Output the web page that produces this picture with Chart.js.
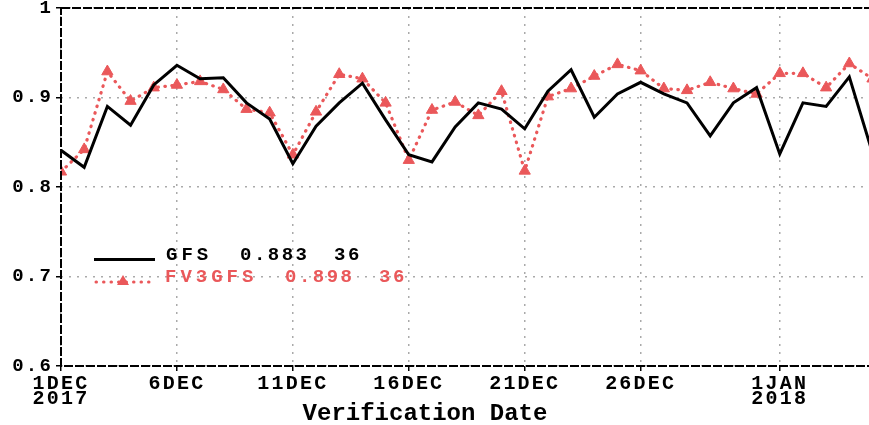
<!DOCTYPE html>
<html>
<head>
<meta charset="utf-8">
<script src="https://cdn.jsdelivr.net/npm/chart.js@4/dist/chart.umd.min.js"></script>
<style>
  html, body { margin: 0; padding: 0; background: #fff; overflow: hidden; }
</style>
</head>
<body>
<canvas id="acChart" width="880" height="425"></canvas>
<script>
// Datos (36 dias, 1DEC2017 - 5JAN2018)
const days = Array.from({ length: 36 }, (_, i) => i);
const gfsValues = [0.841, 0.822, 0.890, 0.869, 0.914, 0.936, 0.921, 0.922, 0.894, 0.876,
                   0.826, 0.868, 0.894, 0.916, 0.875, 0.836, 0.828, 0.867, 0.894, 0.887,
                   0.865, 0.907, 0.931, 0.878, 0.904, 0.917, 0.904, 0.894, 0.857, 0.894,
                   0.911, 0.837, 0.894, 0.890, 0.923, 0.838];
const fv3Values = [0.817, 0.842, 0.929, 0.896, 0.911, 0.914, 0.918, 0.909, 0.887, 0.883,
                   0.836, 0.884, 0.926, 0.921, 0.894, 0.830, 0.886, 0.895, 0.880, 0.907,
                   0.818, 0.901, 0.910, 0.924, 0.937, 0.930, 0.910, 0.908, 0.917, 0.910,
                   0.904, 0.927, 0.927, 0.911, 0.938, 0.921];
const seriesNames = ['GFS', 'FV3GFS'];
const seriesMeans = ['0.883', '0.898'];
const seriesCounts = ['36', '36'];
const xTickDays = [0, 5, 10, 15, 20, 25, 31];
const xTickLabels = [['1DEC', '2017'], '6DEC', '11DEC', '16DEC', '21DEC', '26DEC', ['1JAN', '2018']];
const yTicks = [0.6, 0.7, 0.8, 0.9, 1.0];

const RED = 'rgb(234, 88, 90)';
const MONO = '"Liberation Mono", "DejaVu Sans Mono", monospace';

// Marco discontinuo, titulo del eje y leyenda
const framePlugin = {
    id: 'frame',
    beforeDraw(chart) {
        chart.ctx.letterSpacing = '2.2px';
    },
    afterDraw(chart) {
        const { ctx, chartArea: a } = chart;
        ctx.save();
        ctx.letterSpacing = '0px';
        ctx.strokeStyle = '#000';
        ctx.lineWidth = 2;
        ctx.setLineDash([9, 2]);
        ctx.strokeRect(a.left, a.top, a.right - a.left, a.bottom - a.top);
        ctx.setLineDash([]);

        // titulo
        ctx.font = 'bold 24px ' + MONO;
        ctx.fillStyle = '#000';
        ctx.textAlign = 'center';
        ctx.textBaseline = 'alphabetic';
        ctx.fillText('Verification Date', 425, 420);

        // leyenda
        ctx.font = 'bold 19px ' + MONO;
        ctx.textAlign = 'left';
        ctx.textBaseline = 'middle';
        ctx.lineWidth = 3;
        ctx.strokeStyle = '#000';
        ctx.beginPath(); ctx.moveTo(94, 259.5); ctx.lineTo(155, 259.5); ctx.stroke();
        ctx.letterSpacing = '4px';
        ctx.fillText(seriesNames[0], 166, 255);
        ctx.letterSpacing = '2.5px';
        ctx.fillText(seriesMeans[0], 240, 255);
        ctx.fillText(seriesCounts[0], 334, 255);

        ctx.strokeStyle = RED;
        ctx.lineCap = 'round';
        ctx.setLineDash([0.5, 7]);
        ctx.beginPath(); ctx.moveTo(96, 282); ctx.lineTo(155, 282); ctx.stroke();
        ctx.setLineDash([]);
        ctx.fillStyle = RED;
        ctx.beginPath();
        ctx.moveTo(123, 275); ctx.lineTo(129, 285); ctx.lineTo(117, 285); ctx.closePath();
        ctx.fill();
        ctx.letterSpacing = '4px';
        ctx.fillText(seriesNames[1], 165, 277);
        ctx.letterSpacing = '2.5px';
        ctx.fillText(seriesMeans[1], 285, 277);
        ctx.fillText(seriesCounts[1], 379, 277);
        ctx.restore();
    }
};

const gridStyle = {
    color: '#aaa',
    lineWidth: 1.5,
    tickLength: 5,
    tickColor: '#000',
    tickBorderDash: [],
    tickWidth: 1.5
};

const acConfig = {
    type: 'line',
    data: {
        datasets: [{
            label: seriesNames[0],
            data: days.map((d, i) => ({ x: d, y: gfsValues[i] })),
            borderColor: '#000',
            borderWidth: 3,
            pointRadius: 0,
            tension: 0,
            order: 1
        }, {
            label: seriesNames[1],
            data: days.map((d, i) => ({ x: d, y: fv3Values[i] })),
            borderColor: RED,
            borderWidth: 3.2,
            borderDash: [0.5, 6.5],
            borderCapStyle: 'round',
            pointStyle: 'triangle',
            pointRadius: 6.5,
            pointBackgroundColor: RED,
            pointBorderColor: RED,
            pointBorderWidth: 1,
            tension: 0,
            order: 2
        }]
    },
    options: {
        responsive: false,
        animation: false,
        events: [],
        layout: { padding: { left: 0, top: 8, right: 7, bottom: 0 } },
        plugins: { legend: { display: false }, tooltip: { enabled: false } },
        scales: {
            x: {
                type: 'linear',
                min: 0,
                max: 35,
                afterBuildTicks: (s) => { s.ticks = xTickDays.map(v => ({ value: v })); },
                afterFit: (s) => { s.height = 59; s.paddingLeft = 0; s.paddingRight = 0; },
                grid: gridStyle,
                border: { display: false, dash: [2, 6] },
                ticks: {
                    autoSkip: false,
                    maxRotation: 0,
                    padding: 5,
                    color: '#000',
                    font: { family: MONO, size: 20, weight: 'bold', lineHeight: 0.78 },
                    callback: (v) => xTickLabels[xTickDays.indexOf(v)]
                }
            },
            y: {
                min: 0.6,
                max: 1.0,
                afterBuildTicks: (s) => { s.ticks = yTicks.map(v => ({ value: v })); },
                afterFit: (s) => { s.width = 61; s.paddingTop = 0; s.paddingBottom = 0; },
                grid: gridStyle,
                border: { display: false, dash: [2, 6] },
                ticks: {
                    padding: 3,
                    color: '#000',
                    font: { family: MONO, size: 19, weight: 'bold' },
                    callback: (v) => (v === 1 ? '1' : v.toFixed(1))
                }
            }
        }
    },
    plugins: [framePlugin]
};

const acChart = new Chart(document.getElementById('acChart'), acConfig);
</script>
</body>
</html>
